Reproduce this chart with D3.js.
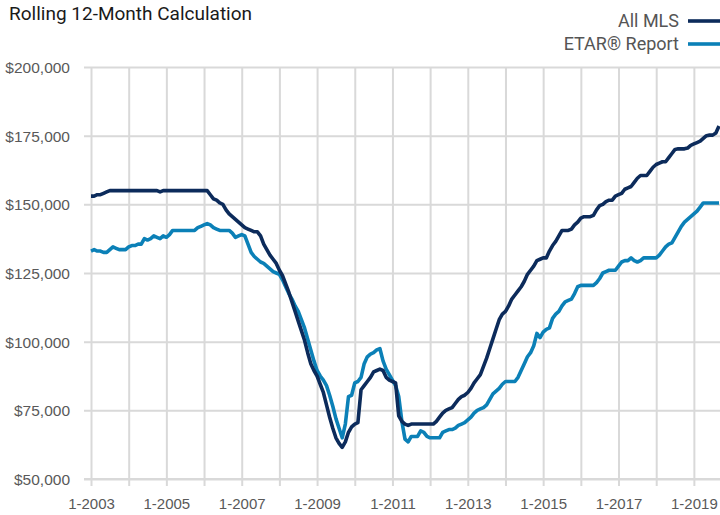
<!DOCTYPE html>
<html>
<head>
<meta charset="utf-8">
<script src="https://cdn.jsdelivr.net/npm/d3@7"></script>
<style>
  body { margin: 0; background: #fff; }
  svg { display: block; font-family: "Roboto", "Liberation Sans", sans-serif; }
</style>
</head>
<body>
<div id="chart"></div>
<script>
// monthly values, Jan 2003 .. Sep 2019 (in $ thousands)
const startYear = 2003;
const yTicks = [50000, 75000, 100000, 125000, 150000, 175000, 200000];
const xLabelYears = [2003, 2005, 2007, 2009, 2011, 2013, 2015, 2017, 2019];

const allMls = [
  153, 153, 153.5, 153.5, 154, 154.5, 155, 155, 155, 155, 155, 155,
  155, 155, 155, 155, 155, 155, 155, 155, 155, 155, 154.5, 155,
  155, 155, 155, 155, 155, 155, 155, 155, 155, 155, 155, 155,
  155, 155, 153.5, 152, 151.5, 150.5, 150, 148, 146.5, 145.5, 144.5, 143.5,
  142.5, 141.5, 141, 140.5, 140, 140, 138.5, 135.5, 133.5, 131.5, 130, 128.5,
  126, 124, 121, 118, 114.5, 111, 107.5, 104, 100.5, 96, 92, 89.5,
  87.5, 84.5, 81.5, 77, 72.5, 68.5, 65, 63, 61.5, 63.5, 67, 69,
  70, 70.5, 82.5, 84, 85.5, 87, 89, 89.5, 90, 89.5, 87, 86,
  85.5, 85, 73, 71, 70, 69.5, 70, 70, 70, 70, 70, 70,
  70, 70, 71, 72.5, 74, 75, 75.5, 76, 77.5, 79, 80, 80.5,
  81.5, 83, 85, 86.5, 88, 91, 94, 97.5, 101, 104.5, 108, 110,
  111, 113, 115.5, 117, 118.5, 120, 122, 124.5, 126, 127.5, 129.5, 130,
  130.5, 130.5, 133, 135, 136.5, 138.5, 140.5, 140.5, 140.5, 141, 142.5, 143.5,
  145, 145.5, 145.5, 145.5, 146, 148, 149.5, 150, 151, 151.5, 151.5, 153,
  153.5, 154, 155.5, 156, 156.5, 158, 159.5, 160.5, 160.5, 160.5, 162, 163.5,
  164.5, 165, 165.5, 165.5, 167, 168.5, 170, 170.2, 170.2, 170.2, 170.5, 171.5,
  172, 172.5, 173, 174, 175, 175.2, 175.2, 176, 178.5
];

const etarReport = [
  133, 133.5, 133, 133, 132.5, 132.5, 133.5, 134.5, 134, 133.5, 133.5, 133.5,
  134.5, 135, 135, 135.5, 135.5, 137.5, 137, 137.5, 138.5, 138, 137.5, 138.5,
  138, 139, 140.5, 140.5, 140.5, 140.5, 140.5, 140.5, 140.5, 140.5, 141.5, 142,
  142.5, 143, 142.5, 141.5, 141, 140.5, 140.5, 140.5, 140.5, 139.5, 138, 138.5,
  139, 138.5, 135.5, 132.5, 131, 130, 129, 128.5, 127.5, 126.5, 125.5, 125,
  124.5, 122.5, 120, 117.5, 115.5, 113, 111, 108, 105, 101, 97, 93,
  89.5, 87.5, 86, 84, 80.5, 76.5, 72, 68.5, 65, 70, 80, 80.5,
  85, 85.5, 87, 92, 94.5, 95.5, 96, 97, 97.5, 93, 90, 88,
  86, 84, 80, 71, 64.5, 63.5, 65.5, 65.5, 65.5, 67.5, 67, 65.5,
  65, 65, 65, 65, 67, 67.5, 68, 68, 68.5, 69.5, 70, 70.5,
  71.5, 72.5, 74, 75, 75.5, 76, 77, 79, 81, 82, 83, 84.5,
  85.5, 85.5, 85.5, 85.5, 87, 89.5, 92, 94.5, 96, 98.5, 103, 101.5,
  103.5, 104.5, 105, 108.5, 110, 111, 113, 114.5, 115, 115.5, 117.5, 120,
  120.5, 120.5, 120.5, 120.5, 120.5, 121.5, 123, 125, 125.5, 126, 126, 126,
  127.5, 129, 129.5, 129.5, 130.5, 129.5, 129, 129.5, 130.5, 130.5, 130.5, 130.5,
  130.5, 131.5, 133, 134.5, 135.5, 136, 138, 140, 142, 143.5, 144.5, 145.5,
  146.5, 147.5, 149, 150.5, 150.5, 150.5, 150.5, 150.5, 150.5
];

const seriesNames = ["All MLS", "ETAR® Report"];
const seriesColors = ["#0c2b5b", "#0b80b7"];

const W = 720, H = 515;
const plotL = 91, plotR = 719, plotT = 67, plotB = 479;

const svg = d3.select("#chart").append("svg")
  .attr("width", W).attr("height", H);

const x = d3.scaleLinear().domain([0, allMls.length - 1]).range([plotL, plotR]);
const y = d3.scaleLinear().domain([50000, 200000]).range([plotB, plotT]);

// horizontal grid + y labels
const yAxis = svg.append("g")
  .attr("transform", `translate(${plotL},0)`)
  .call(d3.axisLeft(y).tickValues(yTicks).tickFormat(d3.format("$,")).tickSize(7).tickSizeOuter(0));
yAxis.select(".domain").remove();
yAxis.selectAll(".tick line").attr("stroke", "#d9d9d9").attr("stroke-width", 2)
  .attr("x1", W - plotL).attr("x2", -7);
yAxis.selectAll("text").attr("x", -21).attr("dy", "0.35em")
  .style("font-size", "15.5px").attr("fill", "#595959");

// vertical grid (each January) + x labels
const yearTicks = d3.range(0, allMls.length, 12);
const xAxis = svg.append("g")
  .attr("transform", `translate(0,${plotB})`)
  .call(d3.axisBottom(x).tickValues(yearTicks)
    .tickFormat(d => {
      const yr = startYear + d / 12;
      return xLabelYears.includes(yr) ? "1-" + yr : "";
    })
    .tickSizeOuter(0));
xAxis.select(".domain").attr("stroke", "#d9d9d9").attr("stroke-width", 2)
  .attr("d", `M${plotL - 7},0H${W}`);
xAxis.selectAll(".tick line").attr("stroke", "#d9d9d9").attr("stroke-width", 2)
  .attr("y1", -(plotB - plotT)).attr("y2", 7);
xAxis.selectAll("text").attr("y", 19)
  .style("font-size", "15px").attr("fill", "#595959");

// lines
const line = d3.line().x((d, i) => x(i)).y(d => y(d * 1000));
[etarReport, allMls].forEach((s, k) => {
  svg.append("path").datum(s)
    .attr("d", line)
    .attr("fill", "none")
    .attr("stroke", seriesColors[1 - k])
    .attr("stroke-width", 3.6)
    .attr("stroke-linejoin", "round");
});

// title
svg.append("text").attr("x", 9).attr("y", 20)
  .style("font-size", "19px").attr("fill", "#1a1a1a")
  .text("Rolling 12-Month Calculation");

// legend
seriesNames.forEach((n, i) => {
  const ly = 21 + i * 23;
  svg.append("text").attr("x", 679).attr("y", ly).attr("dy", "0.35em")
    .attr("text-anchor", "end")
    .style("font-size", "18px").attr("fill", "#555")
    .text(n);
  svg.append("line").attr("x1", 688).attr("x2", 720).attr("y1", ly).attr("y2", ly)
    .attr("stroke", seriesColors[i]).attr("stroke-width", 3.6);
});
</script>
</body>
</html>
